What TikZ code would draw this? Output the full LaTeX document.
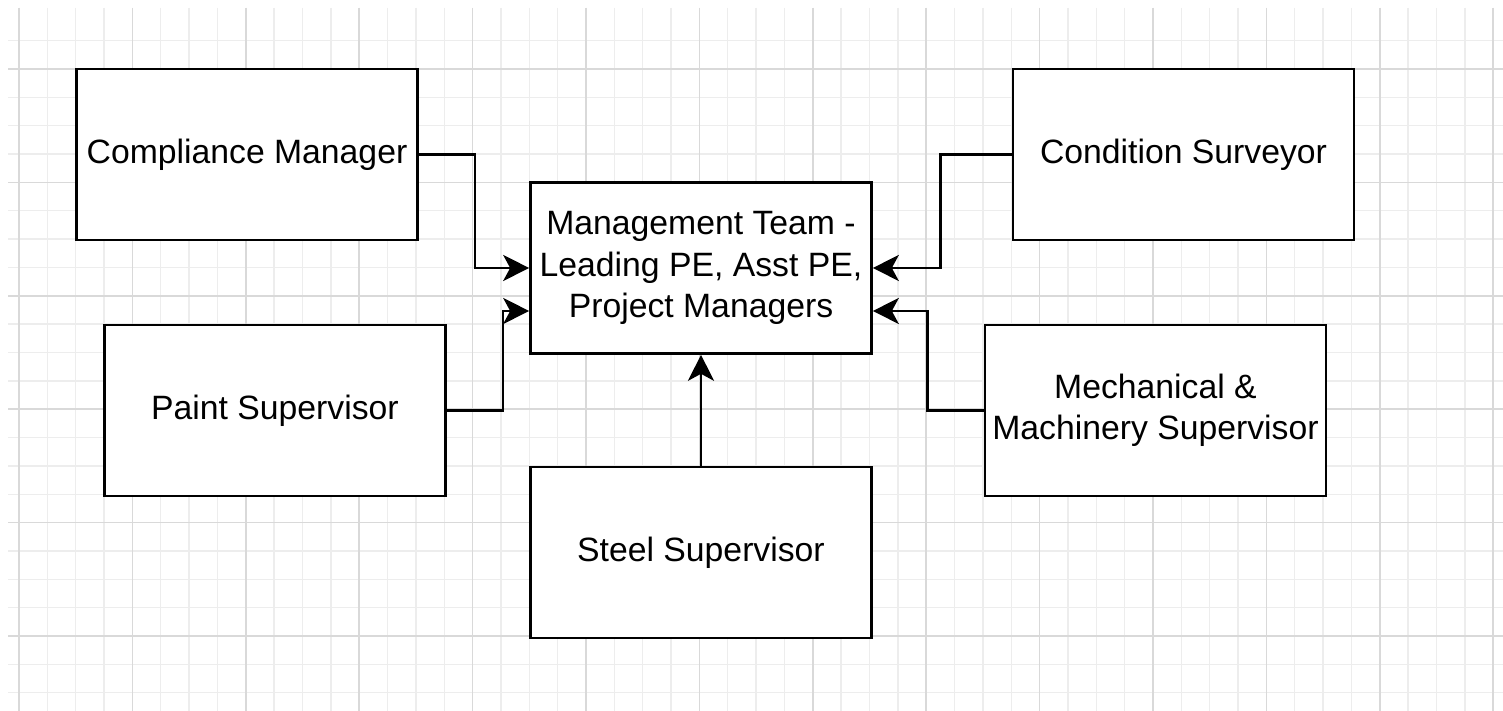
\documentclass[tikz,border=0pt]{standalone}
\usepackage{fontspec}
\setmainfont{Liberation Sans}
\usetikzlibrary{arrows.meta}
\definecolor{gridmin}{HTML}{EDEDED}
\definecolor{gridmaj}{HTML}{D9D9D9}
\begin{document}
\begin{tikzpicture}
\tikzstyle{caixa}=[draw=black, line width=0.75pt, fill=white, minimum width=3.41cm, minimum height=1.71cm, align=center, inner sep=0, font=\fontsize{9.6}{11.8}\selectfont]
\tikzstyle{liga}=[line width=0.75pt, -{Stealth[length=2.6mm, width=2.6mm, inset=0.7mm]}]
\useasboundingbox(0,0) rectangle (15.03,-7.11);
\fill[white](0,0) rectangle (15.03,-7.11);
% grade de fundo
\foreach \i in {0,...,52}
  \draw[gridmin, line width=0.4pt]({(19+28.35*\i)/100},-0.08)--({(19+28.35*\i)/100},-7.11);
\foreach \j in {-1,...,22}
  \draw[gridmin, line width=0.4pt](0.08,{-(69+28.35*\j)/100})--(15.03,{-(69+28.35*\j)/100});
\foreach \i in {0,...,13}
  \draw[gridmaj, line width=0.5pt]({(19+113.4*\i)/100},-0.08)--({(19+113.4*\i)/100},-7.11);
\foreach \j in {0,...,5}
  \draw[gridmaj, line width=0.5pt](0.08,{-(69+113.4*\j)/100})--(15.03,{-(69+113.4*\j)/100});
% caixas
\node[caixa](comp) at(2.47,-1.545){Compliance Manager};
\node[caixa](cond) at(11.835,-1.545){Condition Surveyor};
\node[caixa](mgmt) at(7.01,-2.68){Management Team -\\Leading PE, Asst PE,\\Project Managers};
\node[caixa](paint) at(2.75,-4.105){Paint Supervisor};
\node[caixa](mech) at(11.555,-4.105){Mechanical \&\\Machinery Supervisor};
\node[caixa](steel) at(7.01,-5.525){Steel Supervisor};
% ligacoes
\draw[liga](comp.east)--++(0.56,0)|-(mgmt.west);
\draw[liga](paint.east)--++(0.56,0)|-([yshift=-0.43cm]mgmt.west);
\draw[liga](cond.west)--++(-0.71,0)|-(mgmt.east);
\draw[liga](mech.west)--++(-0.56,0)|-([yshift=-0.43cm]mgmt.east);
\draw[liga](steel.north)--(mgmt.south);
\end{tikzpicture}
\end{document}
